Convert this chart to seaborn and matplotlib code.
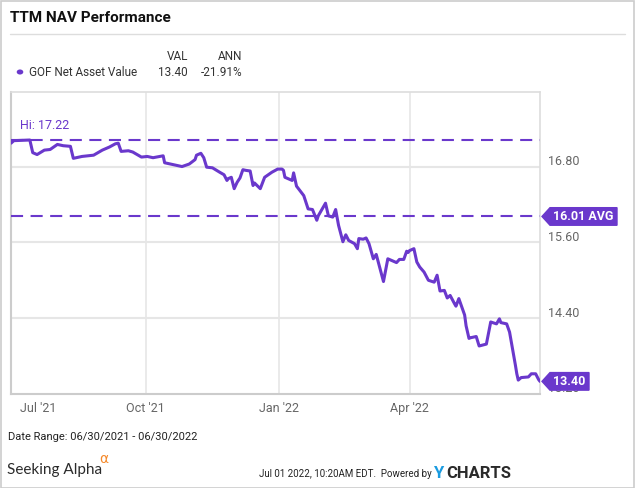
import matplotlib
matplotlib.use("Agg")
import matplotlib.pyplot as plt
import seaborn as sns
import pandas as pd
import numpy as np
from matplotlib.patches import Polygon, Rectangle, Circle
from matplotlib.lines import Line2D
from matplotlib.transforms import ScaledTranslation

# ---------------- data ----------------
dates = [
    "2021-06-30", "2021-07-02", "2021-07-13", "2021-07-15", "2021-07-18", "2021-07-23",
    "2021-07-27", "2021-08-01", "2021-08-05", "2021-08-10", "2021-08-12", "2021-08-18",
    "2021-08-26", "2021-09-01", "2021-09-06", "2021-09-10", "2021-09-12", "2021-09-14",
    "2021-09-19", "2021-09-22", "2021-09-28", "2021-10-02", "2021-10-06", "2021-10-13",
    "2021-10-14", "2021-10-20", "2021-10-26", "2021-10-31", "2021-11-04", "2021-11-05",
    "2021-11-08", "2021-11-10", "2021-11-12", "2021-11-16", "2021-11-21", "2021-11-24",
    "2021-11-26", "2021-11-27", "2021-11-29", "2021-12-01", "2021-12-03", "2021-12-05",
    "2021-12-07", "2021-12-09", "2021-12-12", "2021-12-14", "2021-12-15", "2021-12-19",
    "2021-12-22", "2021-12-27", "2021-12-31", "2022-01-03", "2022-01-04", "2022-01-05",
    "2022-01-10", "2022-01-11", "2022-01-13", "2022-01-18", "2022-01-21", "2022-01-24",
    "2022-01-27", "2022-01-28", "2022-02-02", "2022-02-04", "2022-02-07", "2022-02-09",
    "2022-02-11", "2022-02-14", "2022-02-16", "2022-02-18", "2022-02-22", "2022-02-24",
    "2022-02-25", "2022-02-28", "2022-03-02", "2022-03-04", "2022-03-07", "2022-03-09",
    "2022-03-14", "2022-03-17", "2022-03-20", "2022-03-23", "2022-03-25", "2022-03-28",
    "2022-03-30", "2022-03-31", "2022-04-01", "2022-04-04", "2022-04-06", "2022-04-08",
    "2022-04-11", "2022-04-14", "2022-04-18", "2022-04-20", "2022-04-22", "2022-04-25",
    "2022-04-27", "2022-04-29", "2022-05-02", "2022-05-03", "2022-05-05", "2022-05-09",
    "2022-05-10", "2022-05-12", "2022-05-13", "2022-05-17", "2022-05-19", "2022-05-24",
    "2022-05-27", "2022-05-31", "2022-06-02", "2022-06-03", "2022-06-07", "2022-06-09",
    "2022-06-13", "2022-06-14", "2022-06-15", "2022-06-17", "2022-06-22", "2022-06-24",
    "2022-06-27", "2022-06-29", "2022-06-30",
]
nav = [
    17.17, 17.21, 17.22, 17.02, 16.99, 17.06,
    17.07, 17.15, 17.13, 17.12, 16.93, 16.96,
    16.98, 17.06, 17.11, 17.16, 17.17, 17.04,
    17.05, 17.03, 16.95, 16.96, 16.94, 16.97,
    16.86, 16.83, 16.80, 16.84, 16.91, 16.98,
    17.01, 16.94, 16.79, 16.78, 16.71, 16.67,
    16.58, 16.61, 16.63, 16.45, 16.55, 16.62,
    16.75, 16.74, 16.73, 16.50, 16.54, 16.45,
    16.63, 16.71, 16.76, 16.76, 16.74, 16.63,
    16.58, 16.70, 16.49, 16.34, 16.13, 16.12,
    15.95, 16.02, 16.22, 16.02, 16.00, 16.12,
    15.87, 15.61, 15.72, 15.63, 15.58, 15.50,
    15.66, 15.65, 15.67, 15.58, 15.34, 15.41,
    14.98, 15.34, 15.31, 15.28, 15.33, 15.33,
    15.46, 15.44, 15.47, 15.50, 15.29, 15.21,
    15.13, 15.00, 14.97, 15.08, 14.83, 14.84,
    14.72, 14.76, 14.63, 14.59, 14.71, 14.45,
    14.28, 14.08, 14.09, 14.11, 13.96, 13.99,
    14.34, 14.31, 14.39, 14.33, 14.31, 14.18,
    13.66, 13.52, 13.42, 13.46, 13.47, 13.52,
    13.52, 13.43, 13.40,
]
hi_value = 17.22
avg_value = 16.01
last_value = 13.40
ann_return = "-21.91%"
series_name = "GOF Net Asset Value"
y_ticks = [13.20, 14.40, 15.60, 16.80]
x_tick_dates = ["2021-07-01", "2021-10-01", "2022-01-01", "2022-04-01"]
x_tick_labels = ["Jul '21", "Oct '21", "Jan '22", "Apr '22"]

# ---------------- style ----------------
PURPLE = "#6a38cc"
GRID = "#e6e6e6"
sns.set_theme(style="white")
plt.rcParams["font.family"] = ["Roboto", "DejaVu Sans"]

df = pd.DataFrame({"date": pd.to_datetime(dates), "nav": nav})

fig = plt.figure(figsize=(6.35, 4.88), dpi=100)
fig.patch.set_facecolor("white")
ax = fig.add_axes([11 / 635, 1 - 394 / 488, 529 / 635, (394 - 92) / 488])

sns.lineplot(data=df, x="date", y="nav", ax=ax, color=PURPLE, linewidth=2.2, zorder=4)

ax.set_xlim(pd.Timestamp("2021-06-30"), pd.Timestamp("2022-06-30"))
ax.set_ylim(13.20, 17.98)

# grid
for v in y_ticks[1:]:
    ax.axhline(v, color=GRID, lw=1.5, zorder=1)
for d in x_tick_dates[1:]:
    ax.axvline(pd.Timestamp(d), color=GRID, lw=1.2, zorder=1)

# spines
for s in ["left", "bottom"]:
    ax.spines[s].set_color("#cccccc")
    ax.spines[s].set_linewidth(1.5)
for s in ["top", "right"]:
    ax.spines[s].set_color("#dddddd")
    ax.spines[s].set_linewidth(1.2)

# y ticks on the right
ax.yaxis.tick_right()
ax.set_yticks(y_ticks)
ax.set_yticklabels([f"{v:.2f}" for v in y_ticks], fontsize=9, color="#666666")
ax.tick_params(axis="y", length=0, pad=5.5)
for lab in ax.get_yticklabels():
    lab.set_transform(lab.get_transform() + ScaledTranslation(0, 0.065, fig.dpi_scale_trans))

# x ticks
ax.set_xticks(pd.to_datetime(x_tick_dates))
ax.set_xticklabels(x_tick_labels, fontsize=9, color="#666666")
ax.tick_params(axis="x", length=0, pad=6)
first = ax.get_xticklabels()[0]
first.set_horizontalalignment("left")
first.set_transform(first.get_transform() + ScaledTranslation(0.08, 0, fig.dpi_scale_trans))
ax.set_xlabel("")
ax.set_ylabel("")

# reference lines
dash = (0, (5.8, 3.6))
ax.axhline(hi_value, color=PURPLE, lw=1.5, linestyle=dash, zorder=3)
ax.axhline(avg_value, color=PURPLE, lw=1.5, linestyle=dash, zorder=3)
ax.text(0.017, hi_value + 0.12, f"Hi: {hi_value:.2f}", transform=ax.get_yaxis_transform(),
        color=PURPLE, fontsize=9, va="bottom", ha="left")

# tags at the right
ytr = ax.get_yaxis_transform()
px_x = 1 / 529.0
px_y = 1 / 63.3
def tag(value, text, width_px):
    h = 8.8 * px_y
    x0 = 1.0 + 2 * px_x
    x1 = 1.0 + 10 * px_x
    x2 = 1.0 + (10 + width_px) * px_x
    poly = Polygon([[x0, value], [x1, value + h], [x2, value + h], [x2, value - h], [x1, value - h]],
                   closed=True, transform=ytr, facecolor=PURPLE, edgecolor=PURPLE,
                   clip_on=False, zorder=20)
    ax.add_patch(poly)
    ax.text((x1 + x2) / 2, value, text, transform=ytr, color="white", fontsize=9,
            fontweight="bold", ha="center", va="center", clip_on=False, zorder=21)

tag(avg_value, f"{avg_value:.2f} AVG", 67)
tag(last_value, f"{last_value:.2f}", 39)

# ---------------- header ----------------
fig.text(10 / 635, 1 - 18 / 488, "TTM NAV Performance", fontsize=11, fontweight="bold",
         color="#111111", va="center", ha="left")
fig.add_artist(Line2D([10 / 635, 625 / 635], [1 - 33.5 / 488] * 2, color="#dddddd", lw=1.0))
fig.text(188 / 635, 1 - 56 / 488, "VAL", fontsize=8.5, color="#333333", ha="right", va="center")
fig.text(242 / 635, 1 - 56 / 488, "ANN", fontsize=8.5, color="#333333", ha="right", va="center")
fig.add_artist(Circle((20 / 635, 1 - 72 / 488), 3.3 / 635, transform=fig.transFigure,
                      facecolor=PURPLE, edgecolor="none"))
fig.text(29 / 635, 1 - 72 / 488, series_name, fontsize=8.5, color="#333333", ha="left", va="center")
fig.text(188 / 635, 1 - 72 / 488, f"{last_value:.2f}", fontsize=8.5, color="#333333", ha="right", va="center")
fig.text(242 / 635, 1 - 72 / 488, ann_return, fontsize=8.5, color="#333333", ha="right", va="center")

# ---------------- footer ----------------
fig.text(8 / 635, 1 - 437 / 488, "Date Range: 06/30/2021 - 06/30/2022", fontsize=8,
         color="#222222", ha="left", va="center")
fig.text(7 / 635, 1 - 470 / 488, "Seeking Alpha", fontsize=11, color="#2b2b2b",
         ha="left", va="center", family=["Lato", "DejaVu Sans"])
fig.text(99 / 635, 1 - 459 / 488, "\u03b1", fontsize=10, color="#f5892a", ha="left", va="center",
         family=["DejaVu Sans"])
fig.text(432 / 635, 1 - 474 / 488, "Jul 01 2022, 10:20AM EDT.  Powered by", fontsize=7,
         color="#222222", ha="right", va="center")
fig.text(433 / 635, 1 - 474 / 488, "Y", fontsize=12, color="#1a9be0", ha="left", va="center",
         fontweight="bold")
fig.text(446 / 635, 1 - 474 / 488, "CHARTS", fontsize=12, color="#2a2a2a", ha="left", va="center",
         fontweight="bold")

# outer border
fig.add_artist(Rectangle((0.5 / 635, 0.5 / 488), 633.5 / 635, 486.5 / 488, transform=fig.transFigure,
                         fill=False, edgecolor="#cccccc", lw=1.2))

fig.savefig("out.png", dpi=100)
